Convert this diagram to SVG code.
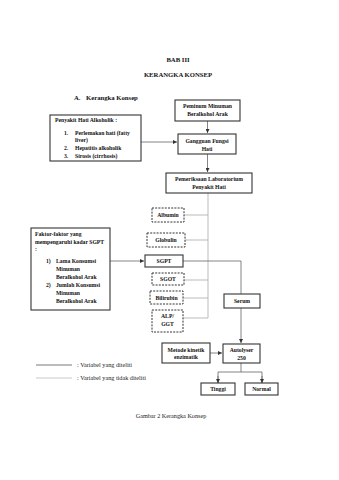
<svg xmlns="http://www.w3.org/2000/svg" width="339" height="480" viewBox="0 0 339 480">
<defs>
<marker id="ah" viewBox="0 0 6 6" refX="6" refY="3" markerWidth="4" markerHeight="4" orient="auto" markerUnits="userSpaceOnUse">
<path d="M0,0 L6,3 L0,6 z" fill="#333"/>
</marker>
</defs>
<style>
.t{font-family:"Liberation Serif","Times New Roman",serif;font-weight:bold;font-size:5.7px;fill:#111}
.h{font-family:"Liberation Serif","Times New Roman",serif;font-weight:bold;font-size:6.7px;fill:#111}
.r{font-family:"Liberation Serif","Times New Roman",serif;font-size:6.2px;fill:#222}
.m{text-anchor:middle}
.box{fill:#fff;stroke:#333;stroke-width:1.1}
.dbox{fill:#fff;stroke:#333;stroke-width:1;stroke-dasharray:2,1.2}
.c{fill:none;stroke:#666;stroke-width:0.8}
.g{fill:none;stroke:#aaa;stroke-width:0.8}
</style>
<rect width="339" height="480" fill="#fff"/>
<text class="h m" x="178" y="61.5">BAB III</text>
<text class="h m" x="178" y="76.5">KERANGKA KONSEP</text>
<text class="h" x="74" y="99.5">A.</text>
<text class="h" x="86" y="99.5">Kerangka Konsep</text>

<g id="connectors">
<path class="c" d="M207.5,121 V133" marker-end="url(#ah)"/>
<path class="c" d="M141,142 H177" marker-end="url(#ah)"/>
<path class="c" d="M207.5,154 V172" marker-end="url(#ah)"/>
<path class="g" d="M208,193 V318"/>
<path class="g" d="M184,215 H208"/>
<path class="g" d="M185,240 H208"/>
<path class="g" d="M184,280 H208"/>
<path class="g" d="M183,298 H208"/>
<path class="g" d="M183,318 H208"/>
<path class="c" d="M110,261 H144" marker-end="url(#ah)"/>
<path class="c" d="M183,261 H241 V294"/>
<path class="c" d="M241,308 V343" marker-end="url(#ah)"/>
<path class="c" d="M210,353 H222" marker-end="url(#ah)"/>
<path class="c" d="M241,363 V372 M218,383 V372 H262 V383"/>
<path class="c" d="M218,376 V383" marker-end="url(#ah)"/>
<path class="c" d="M262,376 V383" marker-end="url(#ah)"/>
</g>

<g id="peminum">
<rect class="box" x="175" y="100" width="65" height="21"/>
<text class="t m" x="207.5" y="108">Peminum Minuman</text>
<text class="t m" x="207.5" y="116">Beralkohol Arak</text>
</g>
<g id="penyakit">
<rect class="box" x="50" y="115" width="91" height="46"/>
<text class="t" x="55" y="122">Penyakit Hati Alkoholik :</text>
<text class="t" x="64" y="135">1.</text>
<text class="t" x="75" y="135">Perlemakan hati (fatty</text>
<text class="t" x="75" y="142">liver)</text>
<text class="t" x="64" y="150">2.</text>
<text class="t" x="75" y="150">Hepatitis alkoholik</text>
<text class="t" x="64" y="158">3.</text>
<text class="t" x="75" y="158">Sirosis (cirrhosis)</text>
</g>
<g id="gangguan">
<rect class="box" x="178" y="134" width="58" height="20"/>
<text class="t m" x="207" y="143">Gangguan Fungsi</text>
<text class="t m" x="207" y="150.5">Hati</text>
</g>
<g id="pemeriksaan">
<rect class="box" x="166" y="173" width="86" height="20"/>
<text class="t m" x="209" y="181">Pemeriksaan Laboratorium</text>
<text class="t m" x="209" y="189">Penyakit Hati</text>
</g>
<g id="albumin">
<rect class="dbox" x="152" y="208" width="32" height="14"/>
<text class="t m" x="168" y="217">Albumin</text>
</g>
<g id="globulin">
<rect class="dbox" x="147" y="233" width="38" height="14"/>
<text class="t m" x="166" y="242">Globulin</text>
</g>
<g id="sgpt">
<rect class="box" x="145" y="255" width="38" height="12"/>
<text class="t m" x="164" y="263">SGPT</text>
</g>
<g id="sgot">
<rect class="dbox" x="152" y="273" width="32" height="12"/>
<text class="t m" x="168" y="281">SGOT</text>
</g>
<g id="bilirubin">
<rect class="dbox" x="150" y="291" width="33" height="13"/>
<text class="t m" x="166.5" y="300">Bilirubin</text>
</g>
<g id="alp">
<rect class="dbox" x="152" y="310" width="31" height="22"/>
<text class="t m" x="167.5" y="318">ALP/</text>
<text class="t m" x="167.5" y="326">GGT</text>
</g>
<g id="faktor">
<rect class="box" x="31" y="228" width="79" height="82"/>
<text class="t" x="35" y="236">Faktor-faktor yang</text>
<text class="t" x="35" y="243.5">mempengaruhi kadar SGPT</text>
<text class="t" x="35" y="251">:</text>
<text class="t" x="46" y="263">1)</text>
<text class="t" x="56" y="263">Lama Konsumsi</text>
<text class="t" x="56" y="271">Minuman</text>
<text class="t" x="56" y="279">Beralkohol Arak</text>
<text class="t" x="46" y="287">2)</text>
<text class="t" x="56" y="287">Jumlah Konsumsi</text>
<text class="t" x="56" y="295">Minuman</text>
<text class="t" x="56" y="303">Beralkohol Arak</text>
</g>
<g id="serum">
<rect class="box" x="224" y="294" width="36" height="14"/>
<text class="t m" x="242" y="303">Serum</text>
</g>
<g id="metode">
<rect class="box" x="162" y="343" width="48" height="20"/>
<text class="t m" x="186" y="351.5">Metode kinetik</text>
<text class="t m" x="186" y="359">enzimatik</text>
</g>
<g id="autolyser">
<rect class="box" x="223" y="344" width="37" height="19"/>
<text class="t m" x="241.5" y="352">Autolyser</text>
<text class="t m" x="241.5" y="359.5">250</text>
</g>
<g id="tinggi">
<rect class="box" x="201" y="383" width="34" height="12"/>
<text class="t m" x="218" y="391">Tinggi</text>
</g>
<g id="normal">
<rect class="box" x="245" y="383" width="33" height="12"/>
<text class="t m" x="261.5" y="391">Normal</text>
</g>

<g id="legend">
<line x1="36" y1="365" x2="72" y2="365" stroke="#555" stroke-width="0.8"/>
<text class="r" x="77" y="367">: Variabel yang diteliti</text>
<line x1="36" y1="378" x2="72" y2="378" stroke="#bbb" stroke-width="0.8"/>
<text class="r" x="77" y="380">: Variabel yang tidak diteliti</text>
</g>
<text class="r m" x="171" y="418">Gambar 2 Kerangka Konsep</text>
</svg>
